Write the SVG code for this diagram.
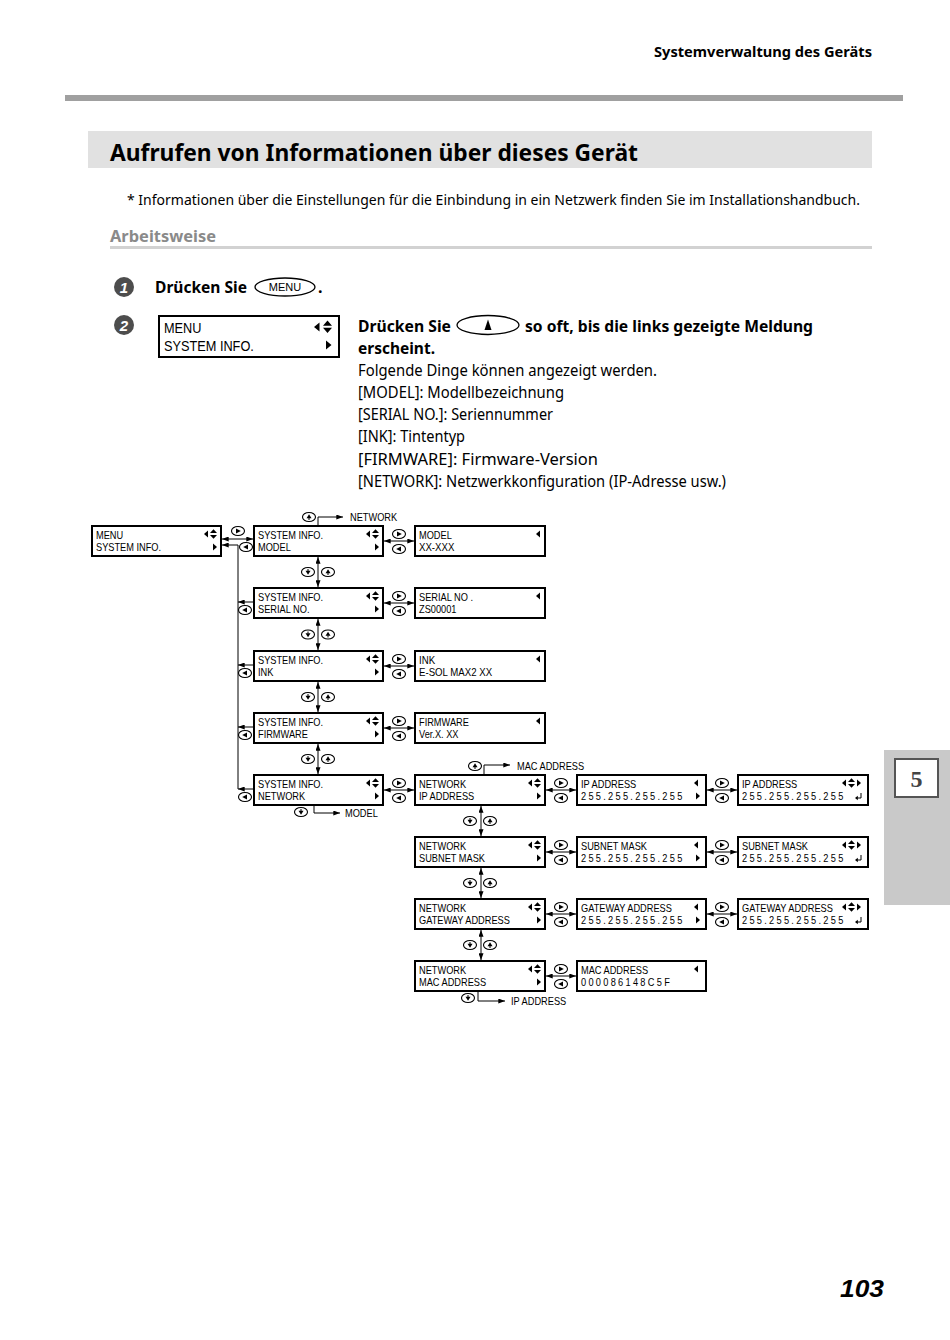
<svg xmlns="http://www.w3.org/2000/svg" xmlns:xlink="http://www.w3.org/1999/xlink" width="950" height="1340" viewBox="0 0 950 1340">
<style>
.body{font-family:"Noto Sans","Open Sans","Liberation Sans",sans-serif;fill:#000}
.b{font-weight:bold}
.lcd{fill:#fff;stroke:#000;stroke-width:2}
.t{font-family:"Liberation Sans",Arial,sans-serif;font-size:10.5px;fill:#000}
.tb{font-family:"Liberation Sans",Arial,sans-serif;font-size:14px;fill:#000}
.num{letter-spacing:2.6px}
.ln{fill:none;stroke:#000;stroke-width:1}
.lbl{font-family:"Liberation Sans",Arial,sans-serif;font-size:10.5px;fill:#000}
</style>
<defs>
<marker id="ah" viewBox="0 0 8 6" refX="8" refY="3" markerWidth="7" markerHeight="5" markerUnits="userSpaceOnUse" orient="auto-start-reverse"><path d="M0,0 L8,3 L0,6 Z"/></marker>
<path id="lt" d="M0,0 L4,-3.5 L4,3.5Z"/>
<path id="rt" d="M0,-3.5 L4,0 L0,3.5Z"/>
<path id="ud" d="M0,-1 L3.5,-4.8 L7,-1Z M0,1 L3.5,4.8 L7,1Z"/>
<g id="ent"><path d="M6,-4 V1 H1.5" fill="none" stroke="#000" stroke-width="1"/><path d="M0,1 L2.8,-1.2 L2.8,3.2Z"/></g>
<g id="kR"><ellipse rx="6.5" ry="4.5" fill="#fff" stroke="#000" stroke-width="1.1"/><path d="M-2,-2.5 L2.8,0 L-2,2.5Z"/></g>
<g id="kL"><ellipse rx="6.5" ry="4.5" fill="#fff" stroke="#000" stroke-width="1.1"/><path d="M2,-2.5 L-2.8,0 L2,2.5Z"/></g>
<g id="kU"><ellipse rx="6.5" ry="4.5" fill="#fff" stroke="#000" stroke-width="1.1"/><path d="M-2.5,1.2 L0,-2.8 L2.5,1.2Z"/><path d="M0,1 V3" stroke="#000" stroke-width="1"/></g>
<g id="kD"><ellipse rx="6.5" ry="4.5" fill="#fff" stroke="#000" stroke-width="1.1"/><path d="M-2.5,-1.2 L0,2.8 L2.5,-1.2Z"/><path d="M0,-1 V-3" stroke="#000" stroke-width="1"/></g>
</defs>

<rect width="950" height="1340" fill="#fff"/>

<!-- page header -->
<g id="header">
<text class="body b" x="654" y="57" font-size="15" textLength="218" lengthAdjust="spacingAndGlyphs">Systemverwaltung des Geräts</text>
<rect x="65" y="95" width="838" height="6" fill="#a0a0a0"/>
<rect x="88" y="131" width="784" height="37" fill="#e1e1e1"/>
<text class="body b" x="110" y="161" font-size="24" textLength="528" lengthAdjust="spacingAndGlyphs">Aufrufen von Informationen über dieses Gerät</text>
<text class="body" x="127" y="205" font-size="15" textLength="733" lengthAdjust="spacingAndGlyphs">* Informationen über die Einstellungen für die Einbindung in ein Netzwerk finden Sie im Installationshandbuch.</text>
<text class="body b" x="110" y="242" font-size="16" fill="#8a8a8a" style="fill:#8a8a8a" textLength="106" lengthAdjust="spacingAndGlyphs">Arbeitsweise</text>
<rect x="110" y="246" width="762" height="3" fill="#d2d2d2"/>
</g>

<!-- step 1 -->
<g id="step1">
<circle cx="124" cy="287" r="10" fill="#4d4d4d"/>
<text x="124" y="293" text-anchor="middle" font-family="Liberation Sans,sans-serif" font-weight="bold" font-style="italic" font-size="15" fill="#fff">1</text>
<text class="body b" x="155" y="293" font-size="16" textLength="92" lengthAdjust="spacingAndGlyphs">Drücken Sie</text>
<ellipse cx="285" cy="287" rx="30" ry="9" fill="#fff" stroke="#000" stroke-width="1.3"/>
<text x="285" y="291" text-anchor="middle" font-family="Liberation Sans,sans-serif" font-size="11">MENU</text>
<text class="body b" x="318" y="293" font-size="16">.</text>
</g>

<!-- step 2 -->
<g id="step2">
<circle cx="124" cy="325" r="10" fill="#4d4d4d"/>
<text x="124" y="331" text-anchor="middle" font-family="Liberation Sans,sans-serif" font-weight="bold" font-style="italic" font-size="15" fill="#fff">2</text>
<rect class="lcd" x="159" y="316" width="180" height="41"/>
<text class="tb" transform="matrix(.91 0 0 1 164 333)">MENU</text>
<text class="tb" transform="matrix(.91 0 0 1 164 351)">SYSTEM INFO.</text>
<path d="M314,327 L319.5,322.5 L319.5,331.5Z M323,325.8 L327.5,320.5 L332,325.8Z M323,327.8 L327.5,333 L332,327.8Z M326,340.5 L331.5,345 L326,349.5Z"/>
<text class="body b" x="358" y="332" font-size="16" textLength="93" lengthAdjust="spacingAndGlyphs">Drücken Sie</text>
<ellipse cx="488" cy="325" rx="31" ry="9.5" fill="#fff" stroke="#000" stroke-width="1.3"/>
<path d="M484.5,330 L488,319.5 L491.5,330Z"/>
<text class="body b" x="525" y="332" font-size="16" textLength="288" lengthAdjust="spacingAndGlyphs">so oft, bis die links gezeigte Meldung</text>
<text class="body b" x="358" y="354" font-size="16" textLength="77" lengthAdjust="spacingAndGlyphs">erscheint.</text>
<text class="body" x="358" y="376" font-size="16" textLength="299" lengthAdjust="spacingAndGlyphs">Folgende Dinge können angezeigt werden.</text>
<text class="body" x="358" y="398" font-size="16" textLength="206" lengthAdjust="spacingAndGlyphs">[MODEL]: Modellbezeichnung</text>
<text class="body" x="358" y="420" font-size="16" textLength="195" lengthAdjust="spacingAndGlyphs">[SERIAL NO.]: Seriennummer</text>
<text class="body" x="358" y="442" font-size="16" textLength="107" lengthAdjust="spacingAndGlyphs">[INK]: Tintentyp</text>
<text class="body" x="358" y="465" font-size="16" textLength="240" lengthAdjust="spacingAndGlyphs">[FIRMWARE]: Firmware-Version</text>
<text class="body" x="358" y="487" font-size="16" textLength="368" lengthAdjust="spacingAndGlyphs">[NETWORK]: Netzwerkkonfiguration (IP-Adresse usw.)</text>
</g>

<!-- connectors -->
<g id="connectors">
<g class="ln">
<line x1="222" y1="539" x2="253" y2="539" marker-start="url(#ah)" marker-end="url(#ah)"/>
<path d="M238,789 V545 H222" marker-end="url(#ah)"/>
<line x1="253" y1="602" x2="238" y2="602" marker-end="url(#ah)"/>
<line x1="253" y1="665" x2="238" y2="665" marker-end="url(#ah)"/>
<line x1="253" y1="727" x2="238" y2="727" marker-end="url(#ah)"/>
<line x1="253" y1="789" x2="238" y2="789" marker-end="url(#ah)"/>
<line x1="318" y1="557" x2="318" y2="587" marker-start="url(#ah)" marker-end="url(#ah)"/>
<line x1="318" y1="619" x2="318" y2="650" marker-start="url(#ah)" marker-end="url(#ah)"/>
<line x1="318" y1="682" x2="318" y2="712" marker-start="url(#ah)" marker-end="url(#ah)"/>
<line x1="318" y1="744" x2="318" y2="774" marker-start="url(#ah)" marker-end="url(#ah)"/>
<path d="M318,525 V517 H343" marker-end="url(#ah)"/>
<path d="M314,806 V813 H340" marker-end="url(#ah)"/>
<line x1="384" y1="541" x2="414" y2="541" marker-start="url(#ah)" marker-end="url(#ah)"/>
<line x1="384" y1="603" x2="414" y2="603" marker-start="url(#ah)" marker-end="url(#ah)"/>
<line x1="384" y1="666" x2="414" y2="666" marker-start="url(#ah)" marker-end="url(#ah)"/>
<line x1="384" y1="728" x2="414" y2="728" marker-start="url(#ah)" marker-end="url(#ah)"/>
<line x1="384" y1="790" x2="414" y2="790" marker-start="url(#ah)" marker-end="url(#ah)"/>
<line x1="481" y1="806" x2="481" y2="836" marker-start="url(#ah)" marker-end="url(#ah)"/>
<line x1="481" y1="868" x2="481" y2="898" marker-start="url(#ah)" marker-end="url(#ah)"/>
<line x1="481" y1="930" x2="481" y2="960" marker-start="url(#ah)" marker-end="url(#ah)"/>
<path d="M484,774 V765 H510" marker-end="url(#ah)"/>
<path d="M478,992 V1001 H505" marker-end="url(#ah)"/>
<line x1="546" y1="790" x2="576" y2="790" marker-start="url(#ah)" marker-end="url(#ah)"/>
<line x1="546" y1="852" x2="576" y2="852" marker-start="url(#ah)" marker-end="url(#ah)"/>
<line x1="546" y1="914" x2="576" y2="914" marker-start="url(#ah)" marker-end="url(#ah)"/>
<line x1="546" y1="976" x2="576" y2="976" marker-start="url(#ah)" marker-end="url(#ah)"/>
<line x1="707" y1="790" x2="737" y2="790" marker-start="url(#ah)" marker-end="url(#ah)"/>
<line x1="707" y1="852" x2="737" y2="852" marker-start="url(#ah)" marker-end="url(#ah)"/>
<line x1="707" y1="914" x2="737" y2="914" marker-start="url(#ah)" marker-end="url(#ah)"/>
</g>
<use href="#kR" x="238" y="531"/>
<use href="#kL" x="246" y="547"/>
<use href="#kL" x="245" y="610"/>
<use href="#kL" x="245" y="673"/>
<use href="#kL" x="245" y="735"/>
<use href="#kL" x="245" y="797"/>
<use href="#kD" x="308" y="572"/><use href="#kU" x="328" y="572"/>
<use href="#kD" x="308" y="634.5"/><use href="#kU" x="328" y="634.5"/>
<use href="#kD" x="308" y="697"/><use href="#kU" x="328" y="697"/>
<use href="#kD" x="308" y="759"/><use href="#kU" x="328" y="759"/>
<use href="#kU" x="309" y="517"/>
<text class="lbl" transform="matrix(.88 0 0 1 350 521)">NETWORK</text>
<use href="#kD" x="301" y="812"/>
<text class="lbl" transform="matrix(.88 0 0 1 345 817)">MODEL</text>
<use href="#kR" x="399" y="534"/><use href="#kL" x="399" y="549"/>
<use href="#kR" x="399" y="596"/><use href="#kL" x="399" y="611"/>
<use href="#kR" x="399" y="659"/><use href="#kL" x="399" y="674"/>
<use href="#kR" x="399" y="721"/><use href="#kL" x="399" y="736"/>
<use href="#kR" x="399" y="783"/><use href="#kL" x="399" y="798"/>
<use href="#kD" x="470" y="821"/><use href="#kU" x="490" y="821"/>
<use href="#kD" x="470" y="883"/><use href="#kU" x="490" y="883"/>
<use href="#kD" x="470" y="945"/><use href="#kU" x="490" y="945"/>
<use href="#kU" x="475" y="766"/>
<text class="lbl" transform="matrix(.88 0 0 1 517 770)">MAC ADDRESS</text>
<use href="#kD" x="468" y="998"/>
<text class="lbl" transform="matrix(.88 0 0 1 511 1005)">IP ADDRESS</text>
<use href="#kR" x="561" y="783"/><use href="#kL" x="561" y="798"/>
<use href="#kR" x="561" y="845"/><use href="#kL" x="561" y="860"/>
<use href="#kR" x="561" y="907"/><use href="#kL" x="561" y="922"/>
<use href="#kR" x="561" y="969"/><use href="#kL" x="561" y="984"/>
<use href="#kR" x="722" y="783"/><use href="#kL" x="722" y="798"/>
<use href="#kR" x="722" y="845"/><use href="#kL" x="722" y="860"/>
<use href="#kR" x="722" y="907"/><use href="#kL" x="722" y="922"/>
</g>

<!-- nodes -->
<g id="n-menu"><rect class="lcd" x="92" y="526" width="129" height="30"/>
<text class="t" transform="matrix(.88 0 0 1 96 538.5)">MENU</text><text class="t" transform="matrix(.88 0 0 1 96 551)">SYSTEM INFO.</text>
<use href="#lt" x="204" y="534"/><use href="#ud" x="210" y="534"/><use href="#rt" x="213" y="547"/></g>

<g id="n-si-model"><rect class="lcd" x="254" y="526" width="129" height="30"/>
<text class="t" transform="matrix(.88 0 0 1 258 538.5)">SYSTEM INFO.</text><text class="t" transform="matrix(.88 0 0 1 258 551)">MODEL</text>
<use href="#lt" x="366" y="534"/><use href="#ud" x="372" y="534"/><use href="#rt" x="375" y="547"/></g>

<g id="n-si-serial"><rect class="lcd" x="254" y="588" width="129" height="30"/>
<text class="t" transform="matrix(.88 0 0 1 258 600.5)">SYSTEM INFO.</text><text class="t" transform="matrix(.88 0 0 1 258 613)">SERIAL NO.</text>
<use href="#lt" x="366" y="596"/><use href="#ud" x="372" y="596"/><use href="#rt" x="375" y="609"/></g>

<g id="n-si-ink"><rect class="lcd" x="254" y="651" width="129" height="30"/>
<text class="t" transform="matrix(.88 0 0 1 258 663.5)">SYSTEM INFO.</text><text class="t" transform="matrix(.88 0 0 1 258 676)">INK</text>
<use href="#lt" x="366" y="659"/><use href="#ud" x="372" y="659"/><use href="#rt" x="375" y="672"/></g>

<g id="n-si-firmware"><rect class="lcd" x="254" y="713" width="129" height="30"/>
<text class="t" transform="matrix(.88 0 0 1 258 725.5)">SYSTEM INFO.</text><text class="t" transform="matrix(.88 0 0 1 258 738)">FIRMWARE</text>
<use href="#lt" x="366" y="721"/><use href="#ud" x="372" y="721"/><use href="#rt" x="375" y="734"/></g>

<g id="n-si-network"><rect class="lcd" x="254" y="775" width="129" height="30"/>
<text class="t" transform="matrix(.88 0 0 1 258 787.5)">SYSTEM INFO.</text><text class="t" transform="matrix(.88 0 0 1 258 800)">NETWORK</text>
<use href="#lt" x="366" y="783"/><use href="#ud" x="372" y="783"/><use href="#rt" x="375" y="796"/></g>

<g id="n-model"><rect class="lcd" x="415" y="526" width="130" height="30"/>
<text class="t" transform="matrix(.88 0 0 1 419 538.5)">MODEL</text><text class="t" transform="matrix(.92 0 0 1 419 551)" font-size="11.5">XX-XXX</text>
<use href="#lt" x="536" y="534"/></g>

<g id="n-serial"><rect class="lcd" x="415" y="588" width="130" height="30"/>
<text class="t" transform="matrix(.88 0 0 1 419 600.5)">SERIAL NO .</text><text class="t" transform="matrix(.88 0 0 1 419 613)">ZS00001</text>
<use href="#lt" x="536" y="596"/></g>

<g id="n-ink"><rect class="lcd" x="415" y="651" width="130" height="30"/>
<text class="t" transform="matrix(.92 0 0 1 419 663.5)" font-size="11.5">INK</text><text class="t" transform="matrix(.92 0 0 1 419 676)" font-size="11.5">E-SOL MAX2 XX</text>
<use href="#lt" x="536" y="659"/></g>

<g id="n-firmware"><rect class="lcd" x="415" y="713" width="130" height="30"/>
<text class="t" transform="matrix(.88 0 0 1 419 725.5)">FIRMWARE</text><text class="t" transform="matrix(.88 0 0 1 419 738)">Ver.X. XX</text>
<use href="#lt" x="536" y="721"/></g>

<g id="n-net-ip"><rect class="lcd" x="415" y="775" width="130" height="30"/>
<text class="t" transform="matrix(.88 0 0 1 419 787.5)">NETWORK</text><text class="t" transform="matrix(.88 0 0 1 419 800)">IP ADDRESS</text>
<use href="#lt" x="528" y="783"/><use href="#ud" x="534" y="783"/><use href="#rt" x="537" y="796"/></g>

<g id="n-net-subnet"><rect class="lcd" x="415" y="837" width="130" height="30"/>
<text class="t" transform="matrix(.88 0 0 1 419 849.5)">NETWORK</text><text class="t" transform="matrix(.88 0 0 1 419 862)">SUBNET MASK</text>
<use href="#lt" x="528" y="845"/><use href="#ud" x="534" y="845"/><use href="#rt" x="537" y="858"/></g>

<g id="n-net-gateway"><rect class="lcd" x="415" y="899" width="130" height="30"/>
<text class="t" transform="matrix(.88 0 0 1 419 911.5)">NETWORK</text><text class="t" transform="matrix(.88 0 0 1 419 924)">GATEWAY ADDRESS</text>
<use href="#lt" x="528" y="907"/><use href="#ud" x="534" y="907"/><use href="#rt" x="537" y="920"/></g>

<g id="n-net-mac"><rect class="lcd" x="415" y="961" width="130" height="30"/>
<text class="t" transform="matrix(.88 0 0 1 419 973.5)">NETWORK</text><text class="t" transform="matrix(.88 0 0 1 419 986)">MAC ADDRESS</text>
<use href="#lt" x="528" y="969"/><use href="#ud" x="534" y="969"/><use href="#rt" x="537" y="982"/></g>

<g id="n-ip"><rect class="lcd" x="577" y="775" width="129" height="30"/>
<text class="t" transform="matrix(.88 0 0 1 581 787.5)">IP ADDRESS</text><text class="t num" transform="matrix(.88 0 0 1 581 800)">255.255.255.255</text>
<use href="#lt" x="694" y="783"/><use href="#rt" x="696" y="796"/></g>

<g id="n-subnet"><rect class="lcd" x="577" y="837" width="129" height="30"/>
<text class="t" transform="matrix(.88 0 0 1 581 849.5)">SUBNET MASK</text><text class="t num" transform="matrix(.88 0 0 1 581 862)">255.255.255.255</text>
<use href="#lt" x="694" y="845"/><use href="#rt" x="696" y="858"/></g>

<g id="n-gateway"><rect class="lcd" x="577" y="899" width="129" height="30"/>
<text class="t" transform="matrix(.88 0 0 1 581 911.5)">GATEWAY ADDRESS</text><text class="t num" transform="matrix(.88 0 0 1 581 924)">255.255.255.255</text>
<use href="#lt" x="694" y="907"/><use href="#rt" x="696" y="920"/></g>

<g id="n-mac"><rect class="lcd" x="577" y="961" width="129" height="30"/>
<text class="t" transform="matrix(.88 0 0 1 581 973.5)">MAC ADDRESS</text><text class="t num" transform="matrix(.88 0 0 1 581 986)">000086148C5F</text>
<use href="#lt" x="694" y="969"/></g>

<g id="n-ip-edit"><rect class="lcd" x="738" y="775" width="130" height="30"/>
<text class="t" transform="matrix(.88 0 0 1 742 787.5)">IP ADDRESS</text><text class="t num" transform="matrix(.88 0 0 1 742 800)">255.255.255.255</text>
<use href="#lt" x="842" y="783"/><use href="#ud" x="848" y="783"/><use href="#rt" x="857" y="783"/><use href="#ent" x="855" y="797"/></g>

<g id="n-subnet-edit"><rect class="lcd" x="738" y="837" width="130" height="30"/>
<text class="t" transform="matrix(.88 0 0 1 742 849.5)">SUBNET MASK</text><text class="t num" transform="matrix(.88 0 0 1 742 862)">255.255.255.255</text>
<use href="#lt" x="842" y="845"/><use href="#ud" x="848" y="845"/><use href="#rt" x="857" y="845"/><use href="#ent" x="855" y="859"/></g>

<g id="n-gateway-edit"><rect class="lcd" x="738" y="899" width="130" height="30"/>
<text class="t" transform="matrix(.88 0 0 1 742 911.5)">GATEWAY ADDRESS</text><text class="t num" transform="matrix(.88 0 0 1 742 924)">255.255.255.255</text>
<use href="#lt" x="842" y="907"/><use href="#ud" x="848" y="907"/><use href="#rt" x="857" y="907"/><use href="#ent" x="855" y="921"/></g>

<!-- side tab and page number -->
<g id="tab">
<rect x="884" y="750" width="66" height="155" fill="#c9c9c9"/>
<rect x="895" y="759" width="43" height="38" fill="#fff" stroke="#555" stroke-width="2"/>
<text x="916.5" y="787" text-anchor="middle" font-family="Liberation Serif,serif" font-weight="bold" font-size="24" fill="#444">5</text>
</g>
<text id="pagenum" x="840" y="1297" font-family="Liberation Sans,sans-serif" font-weight="bold" font-style="italic" font-size="24" textLength="44" lengthAdjust="spacingAndGlyphs">103</text>
</svg>
